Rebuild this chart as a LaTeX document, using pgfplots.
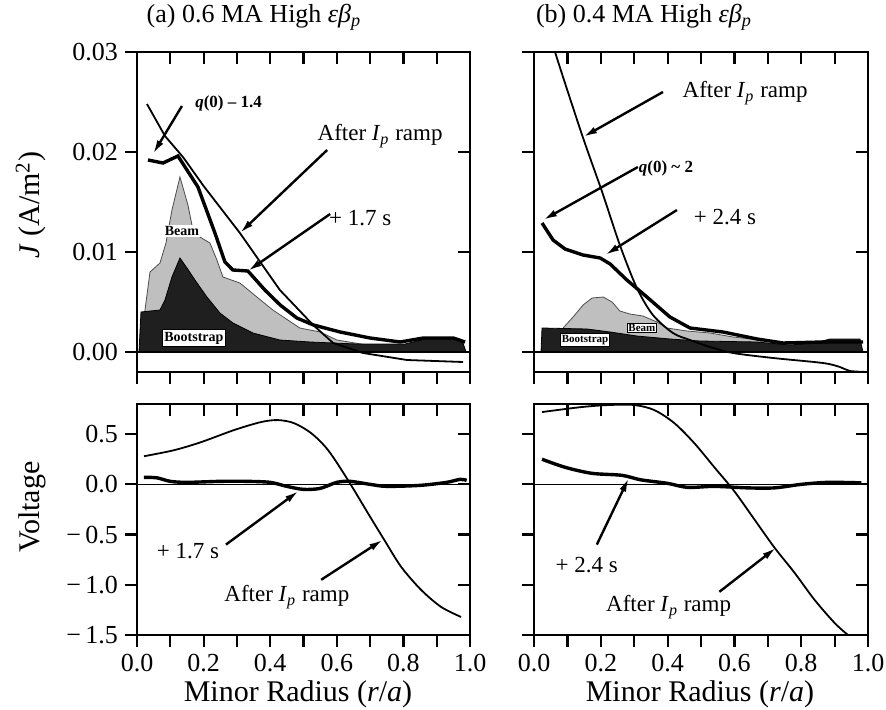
\documentclass[border=0pt]{standalone}
\usepackage{fontspec}
\setmainfont{Liberation Serif}
\usepackage{pgfplots}
\pgfplotsset{compat=1.18}
\usetikzlibrary{arrows.meta}

% 1 px of the reference = 0.5pt
\pgfplotsset{
  panel/.style={scale only axis, xmin=0, xmax=1,
    xtick={0,0.1,0.2,0.3,0.4,0.5,0.6,0.7,0.8,0.9,1},
    scaled ticks=false,
    axis line style={line width=1.1pt},
    every tick/.style={black, line width=1.1pt},
    major tick length=6pt,
    tick label style={font=\fontsize{13}{13}\selectfont},
    /pgf/number format/assume math mode=true},
  dataaxis/.style={panel, tick align=outside, xtick pos=left, ytick pos=left},
  frameaxis/.style={panel, tick align=inside, xtick pos=right, ytick pos=right,
    xticklabels={}, yticklabels={}},
  toppanel/.style={width=166.5pt, height=160pt, ymin=-0.002, ymax=0.03,
    ytick={0,0.01,0.02,0.03}},
  botpanel/.style={height=115.5pt, ymin=-1.5, ymax=0.8,
    ytick={-1.5,-1,-0.5,0,0.5}},
}
\tikzset{
  rampline/.style={black, line width=0.9pt},
  lateline/.style={black, line width=1.7pt},
  ann/.style={font=\fontsize{11.5}{11.5}\selectfont},
  arr/.style={line width=1.2pt, -{Latex[length=7pt,width=3.5pt]}},
}

\begin{document}
\begin{tikzpicture}
\useasboundingbox (0,0) rectangle (443pt,354.5pt);

% ---------- (a) current density ----------
\begin{axis}[dataaxis, toppanel, at={(68.5pt,168.5pt)}, anchor=south west,
  xticklabels={}, yticklabels={0.00,0.01,0.02,0.03}]
% beam (total)
\addplot[fill=gray!50, draw=black!70, line width=0.4pt] table {
0.009 0.0
0.024 0.0042
0.039 0.0080
0.069 0.0089
0.087 0.0109
0.105 0.0142
0.129 0.0175
0.153 0.0147
0.168 0.0122
0.189 0.0115
0.219 0.0109
0.240 0.0092
0.258 0.0075
0.309 0.0069
0.360 0.0055
0.408 0.0042
0.489 0.0024
0.550 0.0020
0.600 0.0012
0.709 0.0006
0.720 0.0
} \closedcycle;
% bootstrap
\addplot[fill=black!88, draw=black, line width=0.4pt] table {
0.006 0.0
0.012 0.0040
0.069 0.0042
0.084 0.0052
0.105 0.0075
0.129 0.0094
0.150 0.0084
0.174 0.0072
0.210 0.0055
0.249 0.0039
0.288 0.0029
0.348 0.0019
0.429 0.0012
0.520 0.0010
0.660 0.0008
0.805 0.0008
0.865 0.0013
0.955 0.0013
0.979 0.0009
0.988 0.0
} \closedcycle;
\draw[line width=0.8pt] (axis cs:0,0) -- (axis cs:1,0);
% after Ip ramp
\addplot[rampline] table {
0.030 0.0248
0.084 0.0216
0.138 0.0195
0.200 0.0166
0.309 0.0119
0.429 0.0062
0.529 0.0027
0.589 0.0009
0.679 -0.0001
0.811 -0.0008
0.979 -0.0010
};
% +1.7 s
\addplot[lateline] table {
0.033 0.0192
0.078 0.0189
0.123 0.0196
0.183 0.0165
0.234 0.0119
0.264 0.0090
0.288 0.0082
0.333 0.0081
0.384 0.0062
0.430 0.0047
0.480 0.0034
0.530 0.0027
0.610 0.0020
0.700 0.0014
0.790 0.0010
0.860 0.0014
0.950 0.0014
0.985 0.0010
};
\node[fill=white, inner sep=0.5pt, font=\bfseries\fontsize{7}{7}\selectfont] at (axis cs:0.135,0.0121) {Beam};
\node[fill=white, draw=black, line width=0.5pt, inner sep=1pt, font=\bfseries\fontsize{7}{7}\selectfont] at (axis cs:0.171,0.0014) {Bootstrap};
\node[font=\bfseries\fontsize{8.5}{8.5}\selectfont] at (axis cs:0.275,0.0249) {\textit{q}(0) – 1.4};
\draw[arr] (axis cs:0.135,0.0246) -- (axis cs:0.048,0.0198);
\node[ann] at (axis cs:0.730,0.0216) {After \textit{I}\textsubscript{\textit{p}} ramp};
\draw[arr] (axis cs:0.571,0.0202) -- (axis cs:0.309,0.0119);
\node[ann] at (axis cs:0.670,0.0134) {+ 1.7 s};
\draw[arr] (axis cs:0.580,0.0138) -- (axis cs:0.333,0.0081);
\end{axis}
\begin{axis}[frameaxis, toppanel, at={(68.5pt,168.5pt)}, anchor=south west]
\end{axis}

% ---------- (b) current density ----------
\begin{axis}[dataaxis, toppanel, width=167pt, at={(267pt,168.5pt)}, anchor=south west,
  xticklabels={}, yticklabels={}]
\addplot[fill=gray!50, draw=black!70, line width=0.4pt] table {
0.080 0.0
0.087 0.0024
0.117 0.0035
0.147 0.0047
0.174 0.0054
0.207 0.0055
0.234 0.0050
0.257 0.0041
0.287 0.0038
0.326 0.0036
0.368 0.0030
0.398 0.0024
0.458 0.0021
0.527 0.0019
0.596 0.0015
0.677 0.0012
0.700 0.0
} \closedcycle;
\addplot[fill=black!88, draw=black, line width=0.4pt] table {
0.021 0.0
0.024 0.0024
0.159 0.0023
0.228 0.0020
0.308 0.0016
0.407 0.0013
0.497 0.0011
0.668 0.0010
0.766 0.0007
0.841 0.0009
0.886 0.0013
0.976 0.0013
0.985 0.0
} \closedcycle;
\draw[line width=0.8pt] (axis cs:0,0) -- (axis cs:1,0);
% after Ip ramp
\addplot[rampline, smooth] table {
0.045 0.0325
0.063 0.0300
0.144 0.0217
0.204 0.0160
0.257 0.0107
0.308 0.0064
0.356 0.0037
0.416 0.0019
0.467 0.0012
0.527 0.0005
0.596 -0.0001
0.716 -0.0006
0.865 -0.0011
0.916 -0.0015
0.946 -0.0019
1.000 -0.0020
};
% +2.4 s
\addplot[lateline] table {
0.024 0.0129
0.057 0.0112
0.093 0.0103
0.147 0.0097
0.198 0.0094
0.228 0.0088
0.278 0.0072
0.338 0.0055
0.407 0.0035
0.467 0.0024
0.566 0.0020
0.668 0.0013
0.746 0.0009
0.865 0.0010
0.985 0.0010
};
\node[fill=white, draw=black, line width=0.3pt, inner sep=0.5pt, font=\bfseries\fontsize{5.5}{5.5}\selectfont] at (axis cs:0.323,0.0024) {Beam};
\node[fill=white, draw=black, line width=0.4pt, inner sep=0.7pt, font=\bfseries\fontsize{5.5}{5.5}\selectfont] at (axis cs:0.153,0.0012) {Bootstrap};
\node[ann] at (axis cs:0.632,0.0259) {After \textit{I}\textsubscript{\textit{p}} ramp};
\draw[arr] (axis cs:0.386,0.0260) -- (axis cs:0.147,0.0215);
\node[font=\bfseries\fontsize{8.5}{8.5}\selectfont] at (axis cs:0.395,0.0184) {\textit{q}(0) \textasciitilde\ 2};
\draw[arr] (axis cs:0.311,0.0185) -- (axis cs:0.027,0.0132);
\node[ann] at (axis cs:0.572,0.0135) {+ 2.4 s};
\draw[arr] (axis cs:0.428,0.0142) -- (axis cs:0.213,0.0097);
\end{axis}
\begin{axis}[frameaxis, toppanel, width=167pt, at={(267pt,168.5pt)}, anchor=south west]
\end{axis}

% ---------- (a) voltage ----------
\begin{axis}[dataaxis, botpanel, width=166.5pt, at={(68.5pt,37pt)}, anchor=south west,
  xticklabels={0.0,,0.2,,0.4,,0.6,,0.8,,1.0},
  yticklabels={−\,1.5,−\,1.0,−\,0.5,0.0,0.5}]
\draw[line width=0.8pt] (axis cs:0,0) -- (axis cs:1,0);
\addplot[rampline, smooth] table {
0.021 0.28
0.111 0.34
0.192 0.42
0.291 0.54
0.372 0.62
0.423 0.64
0.471 0.61
0.523 0.51
0.574 0.34
0.634 0.04
0.694 -0.29
0.742 -0.55
0.793 -0.82
0.853 -1.05
0.913 -1.22
0.973 -1.32
};
\addplot[lateline, smooth] table {
0.021 0.07
0.060 0.065
0.100 0.03
0.150 0.02
0.250 0.03
0.330 0.03
0.400 0.02
0.450 -0.02
0.500 -0.05
0.550 -0.04
0.600 0.02
0.640 0.03
0.700 0.0
0.750 -0.02
0.850 -0.01
0.930 0.02
0.970 0.05
0.990 0.04
};
\node[ann] at (axis cs:0.153,-0.66) {+ 1.7 s};
\draw[arr] (axis cs:0.267,-0.60) -- (axis cs:0.486,-0.065);
\node[ann] at (axis cs:0.450,-1.12) {After \textit{I}\textsubscript{\textit{p}} ramp};
\draw[arr] (axis cs:0.553,-0.95) -- (axis cs:0.739,-0.55);
\end{axis}
\begin{axis}[frameaxis, botpanel, width=166.5pt, at={(68.5pt,37pt)}, anchor=south west]
\end{axis}

% ---------- (b) voltage ----------
\begin{axis}[dataaxis, botpanel, width=167pt, at={(267pt,37pt)}, anchor=south west,
  xticklabels={0.0,,0.2,,0.4,,0.6,,0.8,,1.0}, yticklabels={}]
\draw[line width=0.8pt] (axis cs:0,0) -- (axis cs:1,0);
\addplot[rampline, smooth] table {
0.024 0.72
0.143 0.77
0.224 0.79
0.300 0.79
0.360 0.74
0.420 0.61
0.480 0.41
0.540 0.17
0.600 -0.07
0.660 -0.35
0.720 -0.63
0.780 -0.88
0.840 -1.15
0.900 -1.38
0.940 -1.50
};
\addplot[lateline, smooth] table {
0.024 0.25
0.093 0.17
0.173 0.11
0.263 0.09
0.320 0.045
0.400 0.01
0.460 -0.03
0.540 -0.02
0.640 -0.035
0.720 -0.035
0.800 0.0
0.880 0.02
0.980 0.015
};
\node[ann] at (axis cs:0.158,-0.80) {+ 2.4 s};
\draw[arr] (axis cs:0.188,-0.60) -- (axis cs:0.284,0.065);
\node[ann] at (axis cs:0.403,-1.22) {After \textit{I}\textsubscript{\textit{p}} ramp};
\draw[arr] (axis cs:0.555,-1.07) -- (axis cs:0.725,-0.63);
\end{axis}
\begin{axis}[frameaxis, botpanel, width=167pt, at={(267pt,37pt)}, anchor=south west]
\end{axis}

% titles and axis labels
\node[font=\fontsize{13}{13}\selectfont] at (127pt,346pt) {(a) 0.6 MA High \textit{εβ}\textsubscript{\textit{p}}};
\node[font=\fontsize{13}{13}\selectfont] at (322pt,346pt) {(b) 0.4 MA High \textit{εβ}\textsubscript{\textit{p}}};
\node[rotate=90, font=\fontsize{15}{15}\selectfont] at (15.5pt,252pt) {\textit{J} (A/m\textsuperscript{2})};
\node[rotate=90, font=\fontsize{15}{15}\selectfont] at (16pt,101pt) {Voltage};
\node[font=\fontsize{15}{15}\selectfont] at (149pt,7.5pt) {Minor Radius (\textit{r}/\textit{a})};
\node[font=\fontsize{15}{15}\selectfont] at (350pt,7.5pt) {Minor Radius (\textit{r}/\textit{a})};
\end{tikzpicture}
\end{document}
